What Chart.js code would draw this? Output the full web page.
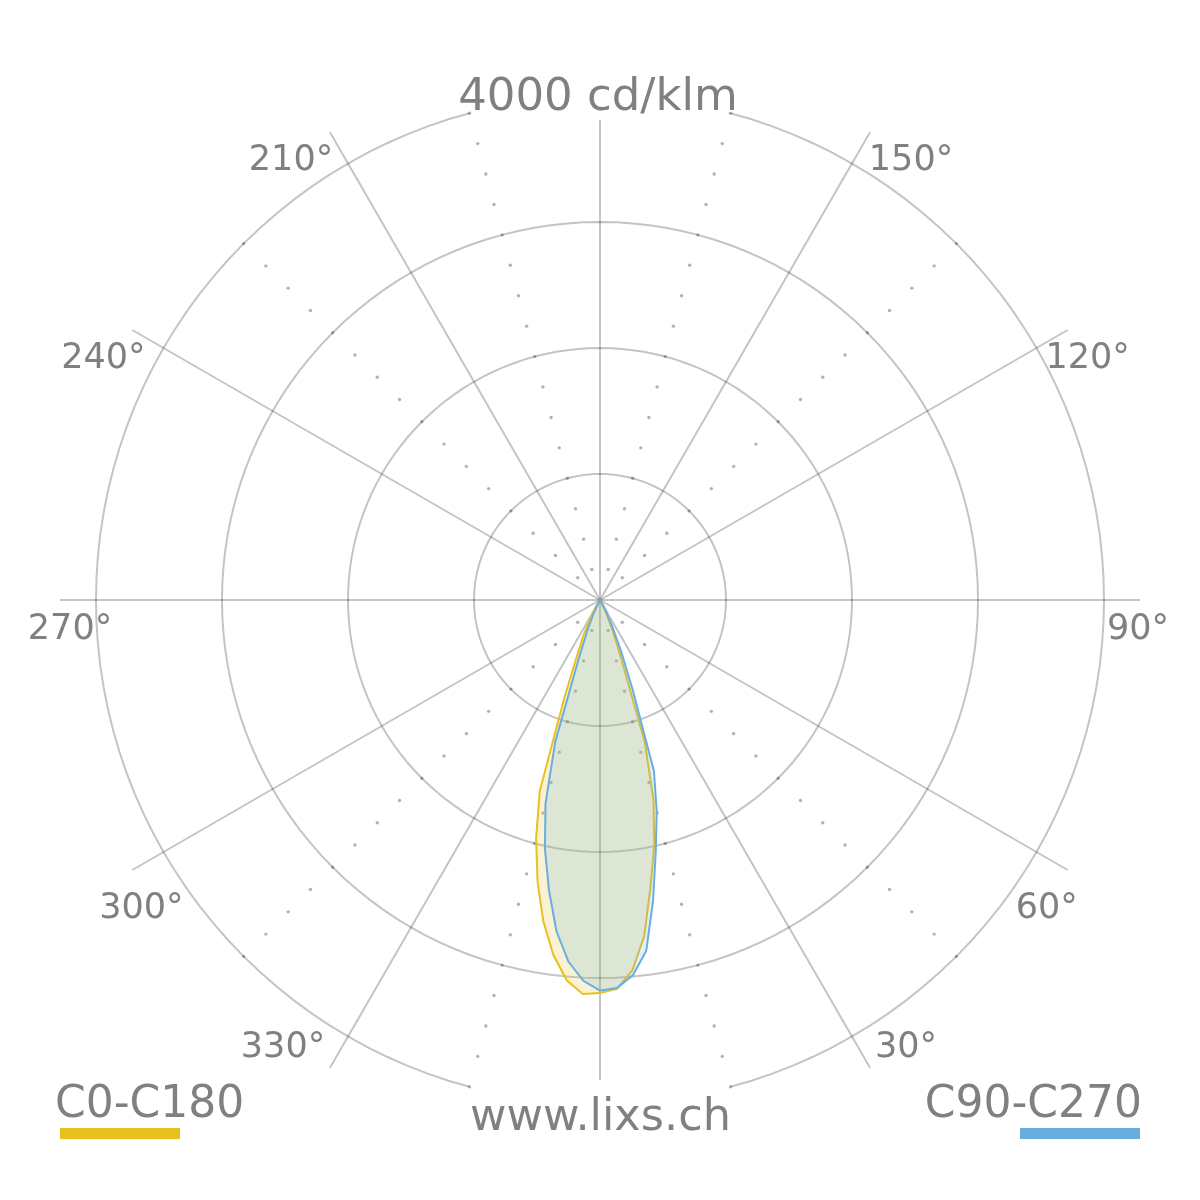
<!DOCTYPE html>
<html><head><meta charset="utf-8">
<script src="https://cdn.jsdelivr.net/npm/chart.js@4.4.1/dist/chart.umd.min.js"></script>
<style>
html,body{margin:0;padding:0;background:#fff;}
#wrap{position:relative;width:1200px;height:1200px;overflow:hidden;font-family:"DejaVu Sans",sans-serif;color:#808080;}
#c{position:absolute;left:0;top:0;}
.t{position:absolute;white-space:nowrap;line-height:1;}
.bar{position:absolute;height:11px;width:120px;top:1128px;}
</style></head><body>
<div id="wrap">
<canvas id="c" width="1200" height="1200"></canvas>
<div class="t" style="left:0;width:1196px;text-align:center;top:72px;font-size:45px;">4000 cd/klm</div>
<div class="t" style="left:0;width:1201px;text-align:center;top:1093px;font-size:44.6px;">www.lixs.ch</div>
<div class="t" style="left:55px;top:1080px;font-size:44px;">C0-C180</div>
<div class="t" style="right:58px;top:1080px;font-size:44px;">C90-C270</div>
<div class="bar" style="left:60px;background:#E8C020;"></div>
<div class="bar" style="left:1020px;background:#69ADDF;"></div>
</div>
<script>
// ---- data (cd/klm) ----
const gammaAngles = [0, 2.5, 5, 7.5, 10, 12.5, 15, 17.5, 20, 22.5, 25, 27.5, 30, 32.5, 35];
const c0Values    = [3120, 3090, 2950, 2690, 2310, 1990, 1640, 1180, 480, 265, 130, 50, 0, 0, 0];
const c180Values  = [3120, 3130, 3030, 2840, 2590, 2290, 1960, 1590, 830, 472, 315, 170, 80, 20, 0];
const c90Values   = [3100, 3082, 2990, 2810, 2425, 2045, 1740, 1423, 760, 430, 230, 100, 30, 0, 0];
const c270Values  = [3100, 3025, 2880, 2650, 2336, 2020, 1671, 1180, 490, 260, 130, 50, 0, 0, 0];
const ringValues  = [1000, 2000, 3000];
const outerRingValue = 4000;
const spokeEndValue = 3810;
const degreeLabels = [30, 60, 90, 120, 150, 210, 240, 270, 300, 330];
const dotAngles = [15, 45, 135, 165, 195, 225, 315, 345];
const dotValues = [250, 500, 750, 1000, 1250, 1500, 1750, 2000, 2250, 2500, 2750, 3000, 3250, 3500, 3750, 4000];
const seriesNames = ['C0-C180', 'C90-C270'];

// ---- layout / style ----
const STEP = 2.5;
const N = 360 / STEP;
const AXIS_MAX = outerRingValue * 540 / 504;
const GRID = 'rgba(0,0,0,0.23)';
const DOT = 'rgba(0,0,0,0.3)';
const NONE = 'rgba(0,0,0,0)';
const YELLOW = '#E8C020', BLUE = '#6AAEE0';
const LABEL_FONT = 35;
const LABEL_OFFSETS = [[36,-23],[-21,35],[-2,26],[20,25],[41,25],[-39,25],[-29,25],[10,26],[9,35],[-47,-23]];

const angles = Array.from({length: N}, (_, i) => (360 - i * STEP) % 360);
const idxOf = deg => Math.round(((360 - deg) % 360) / STEP);
function lookup(vals, g) { const k = gammaAngles.indexOf(g); return k >= 0 ? vals[k] : 0; }
function curve(rightVals, leftVals) {
  return angles.map(t => t <= 90 ? lookup(rightVals, t) : (t >= 270 ? lookup(leftVals, 360 - t) : 0));
}
const isMajor = t => t % 30 === 0 && t !== 0 && t !== 180;

const datasets = [
  { label: seriesNames[1], data: curve(c90Values, c270Values), borderColor: BLUE, borderWidth: 2,
    backgroundColor: 'rgba(106,174,224,0.2)', fill: true, pointRadius: 0, order: 0 },
  { label: seriesNames[0], data: curve(c0Values, c180Values), borderColor: YELLOW, borderWidth: 2,
    backgroundColor: 'rgba(232,192,32,0.2)', fill: true, pointRadius: 0, order: 1 },
  { label: 'outer ring', data: angles.map(t => ((t >= 15 && t <= 165) || (t >= 195 && t <= 345)) ? outerRingValue : null),
    borderColor: GRID, borderWidth: 2, fill: false, pointRadius: 0, spanGaps: false, order: 5 },
  { label: 'spoke', data: angles.map(t => (t === 0 || t === 180) ? spokeEndValue : null),
    borderColor: GRID, borderWidth: 2, fill: false, pointRadius: 0, spanGaps: true, order: 6 }
];
ringValues.forEach(v => datasets.push({
  label: 'ring ' + v, data: angles.map(() => v), borderColor: GRID, borderWidth: 2,
  fill: false, pointRadius: 0, order: 8
}));
dotValues.forEach(v => datasets.push({
  label: 'dots', data: angles.map(t => dotAngles.includes(t) ? v : null), showLine: false, fill: false,
  pointRadius: 1.7, pointBorderWidth: 0, pointBackgroundColor: DOT, order: 7
}));

const labelPlugin = {
  id: 'degreeLabels',
  afterDatasetsDraw(chart) {
    const s = chart.scales.r, ctx = chart.ctx;
    const dist = s.getDistanceFromCenterForValue(AXIS_MAX);
    ctx.save();
    ctx.font = LABEL_FONT + 'px "DejaVu Sans"';
    ctx.fillStyle = '#808080';
    ctx.textAlign = 'center';
    ctx.textBaseline = 'alphabetic';
    degreeLabels.forEach((d, k) => {
      const p = s.getPointPosition(idxOf(d), dist);
      ctx.fillText(d + '°', p.x + LABEL_OFFSETS[k][0], p.y + LABEL_OFFSETS[k][1] + LABEL_FONT * 0.3645);
    });
    ctx.restore();
  }
};

new Chart(document.getElementById('c'), {
  type: 'radar',
  data: { labels: angles, datasets },
  options: {
    responsive: false, animation: false, devicePixelRatio: 1, events: [],
    layout: { padding: 60 },
    elements: { line: { tension: 0 } },
    plugins: { legend: { display: false }, tooltip: { enabled: false } },
    scales: { r: {
      min: 0, max: AXIS_MAX, startAngle: 180,
      ticks: { display: false, stepSize: 1000 },
      pointLabels: { display: false },
      grid: { display: false },
      angleLines: { display: true,
        color: c => isMajor(angles[c.index]) ? GRID : NONE,
        lineWidth: c => isMajor(angles[c.index]) ? 2 : 0 }
    } }
  },
  plugins: [labelPlugin]
});
</script>
</body></html>
